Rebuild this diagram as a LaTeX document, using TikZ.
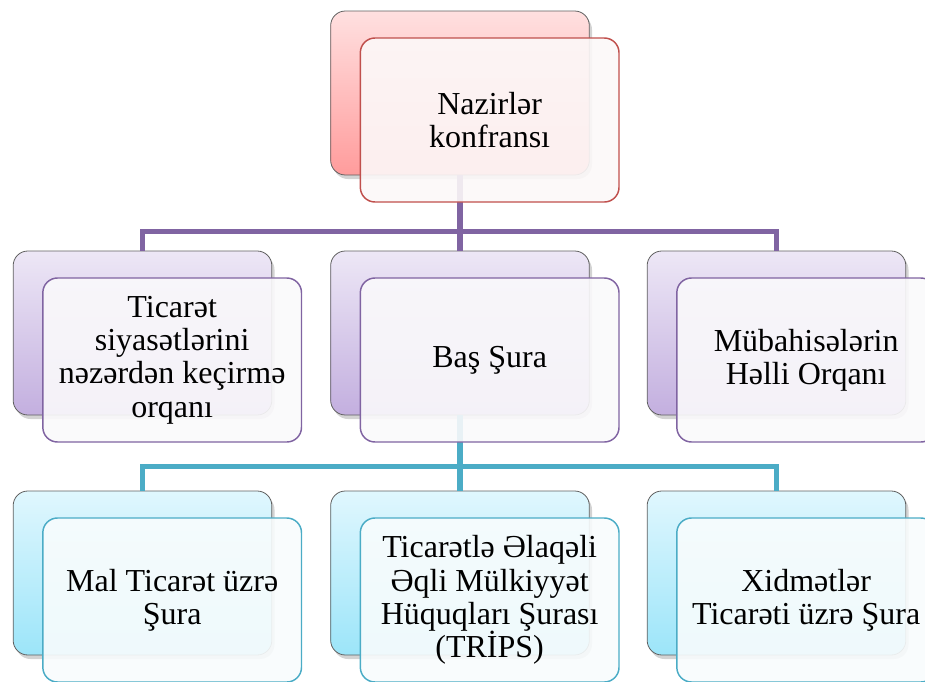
\documentclass[tikz,border=0pt]{standalone}
\usepackage{fontspec}
\setmainfont{Liberation Serif}
\usetikzlibrary{positioning,shadows}

\definecolor{wtored}{HTML}{C0504D}
\definecolor{wtopurple}{HTML}{8064A2}
\definecolor{wtocyan}{HTML}{4BACC6}
\definecolor{redtop}{HTML}{FFE0E0}
\definecolor{redbot}{HTML}{FF9C9C}
\definecolor{purtop}{HTML}{EDE7F6}
\definecolor{purbot}{HTML}{C3AFDF}
\definecolor{cyantop}{HTML}{E0F7FE}
\definecolor{cyanbot}{HTML}{9CE5F9}

\tikzset{
  backbox/.style 2 args={draw=gray!75!black, line width=0.6pt, rounded corners=11pt,
    minimum width=194pt, minimum height=123pt, top color=#1, bottom color=#2,
    drop shadow={opacity=0.35, shadow xshift=2pt, shadow yshift=-3pt}},
  frontbox/.style={draw=#1, line width=1.1pt, rounded corners=11pt,
    minimum width=194pt, minimum height=123pt, fill=#1!4, fill opacity=0.9,
    text opacity=1, align=center, font=\fontsize{24}{25}\selectfont},
  busline/.style={draw=#1, line width=3.8pt}
}

\begin{document}
\begin{tikzpicture}[x=0.75pt, y=-0.75pt]
\useasboundingbox (0,0) rectangle (925,682);

\node[backbox={redtop}{redbot}] (nazirback) at (460,93) {};
\node[backbox={purtop}{purbot}] (ticback) at (142.5,333) {};
\node[backbox={purtop}{purbot}] (basback) at (460,333) {};
\node[backbox={purtop}{purbot}] (mubback) at (776.5,333) {};
\node[backbox={cyantop}{cyanbot}] (malback) at (142.5,573) {};
\node[backbox={cyantop}{cyanbot}] (tripsback) at (460,573) {};
\node[backbox={cyantop}{cyanbot}] (xidback) at (776.5,573) {};

\draw[busline=wtopurple] (ticback.north) -- ++(0,-19) -| (mubback.north);
\draw[busline=wtopurple] (nazirback.south) -- (basback.north);
\draw[busline=wtocyan] (malback.north) -- ++(0,-24) -| (xidback.north);
\draw[busline=wtocyan] (basback.south) -- (tripsback.north);

\node[frontbox=wtored, below right=20pt and 22pt of nazirback.north west] (nazir) {Nazirlər\\konfransı};
\node[frontbox=wtopurple, below right=20pt and 22pt of ticback.north west] (tic) {Ticarət\\siyasətlərini\\nəzərdən keçirmə\\orqanı};
\node[frontbox=wtopurple, below right=20pt and 22pt of basback.north west] (bas) {Baş Şura};
\node[frontbox=wtopurple, below right=20pt and 22pt of mubback.north west] (mub) {Mübahisələrin\\Həlli Orqanı};
\node[frontbox=wtocyan, below right=20pt and 22pt of malback.north west] (mal) {Mal Ticarət üzrə\\Şura};
\node[frontbox=wtocyan, below right=20pt and 22pt of tripsback.north west] (trips) {Ticarətlə Əlaqəli\\Əqli Mülkiyyət\\Hüquqları Şurası\\(TRİPS)};
\node[frontbox=wtocyan, below right=20pt and 22pt of xidback.north west] (xid) {Xidmətlər\\Ticarəti üzrə Şura};
\end{tikzpicture}
\end{document}
